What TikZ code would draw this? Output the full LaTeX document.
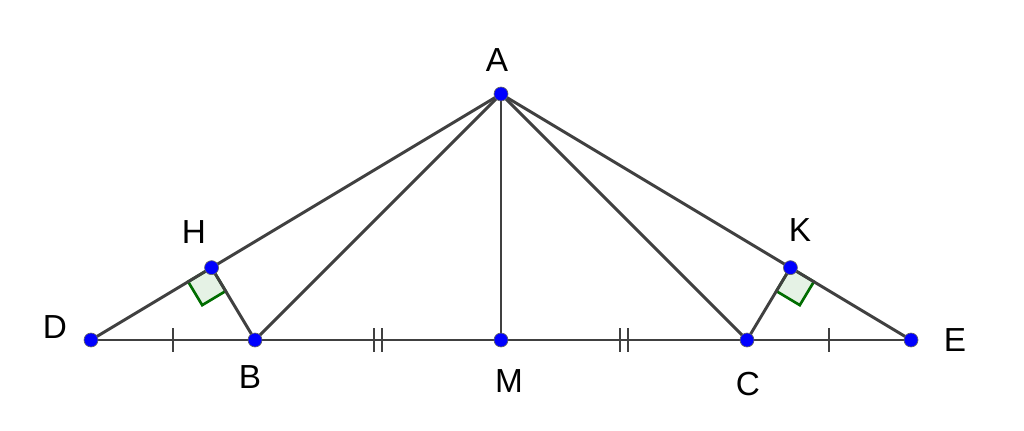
\documentclass[tikz,border=0pt]{standalone}
\usepackage{fontspec}
\setmainfont{Liberation Sans}
\usetikzlibrary{calc}
\definecolor{segGray}{RGB}{64,64,64}
\definecolor{ptBlue}{RGB}{0,0,255}
\definecolor{angGreen}{RGB}{0,128,0}
\begin{document}
\begin{tikzpicture}[x=0.75pt,y=0.75pt,yscale=-1,xscale=1,
  seg/.style={color=segGray, line width=2.2pt},
  tick/.style={color=segGray, line width=2pt},
  rmark/.style={draw=angGreen!85!black, line width=2pt, fill=angGreen, fill opacity=0.1},
  pt/.style={circle, fill=ptBlue, draw=black!60, line width=0.5pt, inner sep=0pt, minimum size=10.5pt},
  lbl/.style={font=\fontsize{25}{30}\selectfont, inner sep=0pt}]
\useasboundingbox (0,0) rectangle (1024,431);

%Points
\coordinate (A) at (501,94);
\coordinate (D) at (91,340);
\coordinate (B) at (255,340);
\coordinate (M) at (501,340);
\coordinate (C) at (747,340);
\coordinate (E) at (911,340);
%feet of the perpendiculars
\coordinate (H) at ($(D)!(B)!(A)$);
\coordinate (K) at ($(E)!(C)!(A)$);

%Right angle marks
\coordinate (h1) at ($(H)!20.5pt!(D)$);
\coordinate (h2) at ($(H)!20.5pt!(B)$);
\draw [rmark] (H) -- (h1) -- ($(h1)+(h2)-(H)$) -- (h2) -- cycle;
\coordinate (k1) at ($(K)!20.5pt!(E)$);
\coordinate (k2) at ($(K)!20.5pt!(C)$);
\draw [rmark] (K) -- (k1) -- ($(k1)+(k2)-(K)$) -- (k2) -- cycle;

%Segments
\draw [seg] (D) -- (E);
\draw [seg] (A) -- (D);
\draw [seg] (A) -- (B);
\draw [seg] (A) -- (M);
\draw [seg] (A) -- (C);
\draw [seg] (A) -- (E);
\draw [seg] (B) -- (H);
\draw [seg] (C) -- (K);

%Tick marks
\coordinate (tDB) at ($(D)!0.5!(B)$);
\coordinate (tBM) at ($(B)!0.5!(M)$);
\coordinate (tMC) at ($(M)!0.5!(C)$);
\coordinate (tCE) at ($(C)!0.5!(E)$);
\draw [tick] ($(tDB)+(0,-12)$) -- ($(tDB)+(0,12)$);
\draw [tick] ($(tBM)+(-4,-12)$) -- ($(tBM)+(-4,12)$);
\draw [tick] ($(tBM)+(4,-12)$) -- ($(tBM)+(4,12)$);
\draw [tick] ($(tMC)+(-4,-12)$) -- ($(tMC)+(-4,12)$);
\draw [tick] ($(tMC)+(4,-12)$) -- ($(tMC)+(4,12)$);
\draw [tick] ($(tCE)+(0,-12)$) -- ($(tCE)+(0,12)$);

%Dots
\foreach \p in {A,D,B,M,C,E,H,K}
  \node [pt] (d\p) at (\p) {};

% Text Node
\node [lbl] (lA) at (497,60) {A};
\node [lbl] (lH) at (194,232) {H};
\node [lbl] (lK) at (800,230) {K};
\node [lbl] (lD) at (55,327) {D};
\node [lbl] (lB) at (250,377) {B};
\node [lbl] (lM) at (509,381) {M};
\node [lbl] (lC) at (748,384) {C};
\node [lbl] (lE) at (955,340) {E};

\end{tikzpicture}
\end{document}
